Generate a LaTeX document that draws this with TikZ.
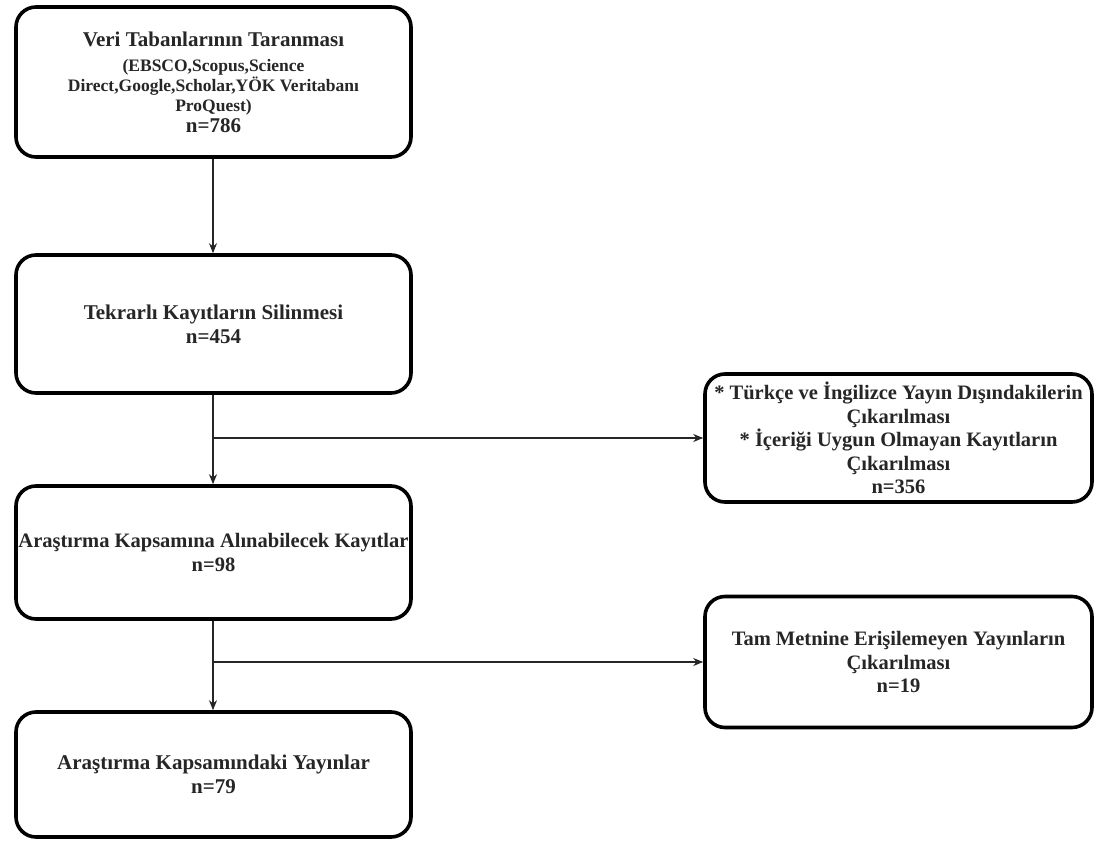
\documentclass[tikz,border=0pt]{standalone}
\usepackage{fontspec}
\setmainfont{Liberation Serif}
\usetikzlibrary{arrows.meta}
\newcommand{\bigtxt}{\fontsize{21}{24}\selectfont}
\newcommand{\midtxt}{\fontsize{20.5}{23.5}\selectfont}
\newcommand{\smalltxt}{\fontsize{17.5}{20}\selectfont}
\newcommand{\bigtight}{\fontsize{21}{20}\selectfont}
\begin{document}
\begin{tikzpicture}[x=1pt,y=-1pt,
  box/.style={draw=black, line width=3.6pt, rounded corners=20pt, fill=white,
    align=center, inner sep=0pt, font=\bfseries\bigtxt,
    text=black!85},
  conn/.style={draw=black!85, line width=1.3pt},
  arr/.style={conn, -{Stealth[length=10pt,width=8pt]}}]
  \useasboundingbox[fill=white] (0,0) rectangle (1101,843);

  % main column
  \node[box, font=\bfseries\bigtight, minimum width=395pt, minimum height=150pt] (b1) at (213.5,82)
    {\bigtight Veri Tabanlarının Taranması\\[5pt]
     \smalltxt (EBSCO,Scopus,Science\\
     \smalltxt Direct,Google,Scholar,YÖK Veritabanı\\
     \smalltxt ProQuest)\\[1pt]
     \bigtight n=786};
  \node[box, minimum width=395pt, minimum height=138pt] (b2) at (213.5,324)
    {Tekrarlı Kayıtların Silinmesi\\n=454};
  \node[box, font=\bfseries\midtxt, minimum width=395pt, minimum height=133pt] (b3) at (213.5,552.5)
    {\makebox[380pt]{Araştırma Kapsamına Alınabilecek Kayıtlar}\\n=98};
  \node[box, minimum width=395pt, minimum height=125pt] (b4) at (213.5,774.5)
    {Araştırma Kapsamındaki Yayınlar\\n=79};

  % exclusion boxes
  \node[box, font=\bfseries\midtxt, minimum width=387pt, minimum height=128pt] (r1) at (898.5,438)
    {* Türkçe ve İngilizce Yayın Dışındakilerin\\
     Çıkarılması\\
     * İçeriği Uygun Olmayan Kayıtların\\
     Çıkarılması\\
     n=356};
  \node[box, font=\bfseries\midtxt, minimum width=387pt, minimum height=131pt] (r2) at (898.5,662)
    {Tam Metnine Erişilemeyen Yayınların\\
     Çıkarılması\\
     n=19};

  % connectors
  \coordinate (j1) at (213,438);
  \coordinate (j2) at (213,662);
  \draw[arr] (b1.south -| j1) -- (b2.north -| j1);
  \draw[arr] (b2.south -| j1) -- (b3.north -| j1);
  \draw[arr] (b3.south -| j2) -- (b4.north -| j2);
  \draw[arr] (j1) -- (r1.west);
  \draw[arr] (j2) -- (r2.west);
\end{tikzpicture}
\end{document}
